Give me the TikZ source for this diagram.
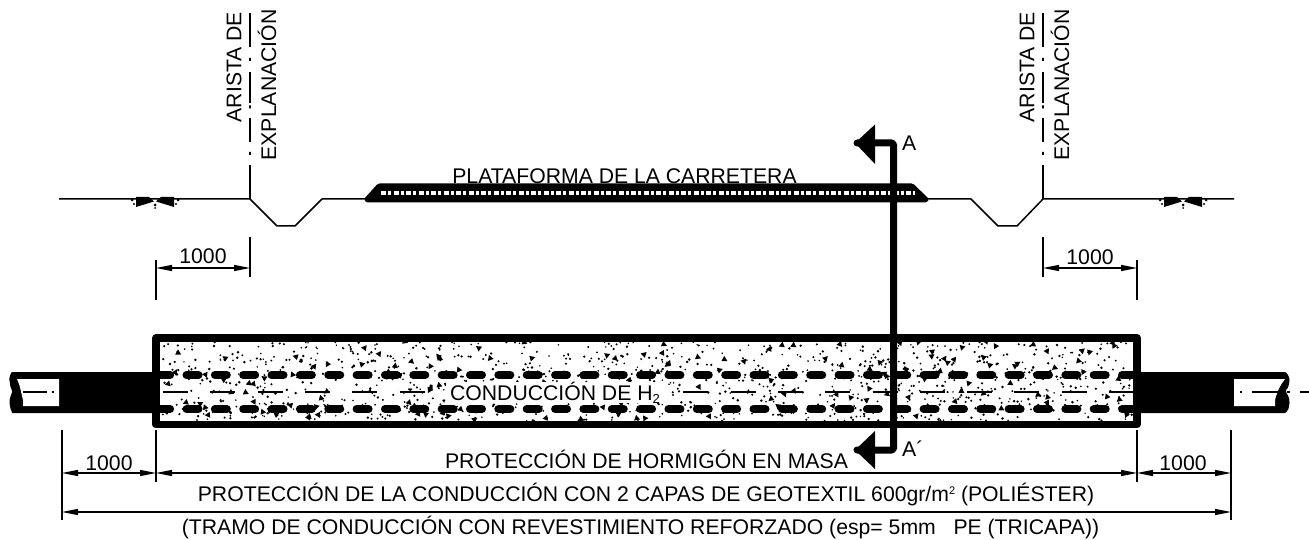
\documentclass[tikz,border=0pt]{standalone}
\usepackage{fontspec}
\setmainfont{Liberation Sans}
\usetikzlibrary{arrows.meta}
\tikzset{
  lbl/.style={inner sep=0pt,font=\fontsize{21.2}{25}\selectfont},
  thin line/.style={line width=1.2pt,black},
  ground/.style={line width=1.5pt,black},
  dimline/.style={line width=1.2pt,black,{Triangle[length=16pt,width=6pt]}-{Triangle[length=16pt,width=6pt]}},
  dimhalf/.style={line width=1.2pt,black},
  rebar/.style={line width=8pt,line cap=round,black},
  section/.style={line width=7pt,black,line join=round},
}
\begin{document}
\begin{tikzpicture}[x=1pt,y=-1pt]
\useasboundingbox (0,0) rectangle (1309,540);
\fill[white] (0,0) rectangle (1309,540);
% ground profile
\coordinate (gl) at (59,199);
\coordinate (el) at (250,199);
\coordinate (er) at (1043,199);
\coordinate (gr) at (1234,199);
\coordinate (pl) at (365,199);
\coordinate (pr) at (928,199);
\draw[ground,line join=round] (gl) -- (el) -- (277,226) -- (295,226) -- (322,199) -- (pl);
\draw[ground,line join=round] (pr) -- (971,199) -- (998,226) -- (1017,226) -- (er) -- (gr);
% break symbols
\foreach \c in {155,1183}{
  \fill[black] (\c-19,197) -- (\c-6,197) -- (\c-1,201.5) -- (\c-19,207) -- cycle;
  \fill[black] (\c+19,197) -- (\c+6,197) -- (\c+1,201.5) -- (\c+19,207) -- cycle;
  \fill[black] (\c-23,200) circle (1.5) (\c-21,204) circle (1.2) (\c+23,200) circle (1.5) (\c+21,204) circle (1.2) (\c,205) circle (1.5) (\c,208) circle (1);
}
% arista lines
\foreach \a in {250,1043}{
  \draw[thin line] (\a,199) -- (\a,165) (\a,142) -- (\a,118) (\a,103) -- (\a,72) (\a,47) -- (\a,13);
  \fill[black] (\a-0.8,152) rectangle (\a+0.8,155) (\a-0.8,105.5) rectangle (\a+0.8,108.5) (\a-0.8,58) rectangle (\a+0.8,61);
}
\node[lbl,rotate=90,anchor=west] (t1) at (234,122.5) {ARISTA DE};
\node[lbl,rotate=90,anchor=west] (t2) at (267,160.5) {EXPLANACIÓN};
\node[lbl,rotate=90,anchor=west] (t3) at (1027,122.5) {ARISTA DE};
\node[lbl,rotate=90,anchor=west] (t4) at (1060,160.5) {EXPLANACIÓN};
% platform
\node[lbl] (plat) at (624.5,176) {PLATAFORMA DE LA CARRETERA};
\fill[black,rounded corners=1.5pt] (364,199) -- (378,183.5) -- (913,183.5) -- (929,199) -- (927,202.5) -- (366,202.5) -- cycle;
\draw[white,line width=3.2pt,dash pattern=on 5pt off 2pt on 3pt off 2.5pt] (381,193) -- (915,193);
% pipe ends
\fill[black,rounded corners=3pt] (156,372) -- (15,372) .. controls (11,372) and (9,378) .. (10,383) .. controls (10.5,388) and (12,390) .. (13,392) .. controls (11,395) and (9,400) .. (10,406) .. controls (11,411) and (13,413) .. (15,413) -- (156,413) -- cycle;
\fill[white] (17,379) .. controls (20,385) and (21,392) .. (23,400) -- (23,406) -- (59,406) -- (59,379) -- cycle;
\fill[black,rounded corners=3pt] (1137,372) -- (1282,372) .. controls (1287,372) and (1290,378) .. (1289,384) .. controls (1288,388) and (1286,390) .. (1285,392) .. controls (1288,395) and (1290,400) .. (1289,406) .. controls (1288,411) and (1285,413) .. (1282,413) -- (1137,413) -- cycle;
\fill[white] (1234,379) -- (1285,379) .. controls (1280,385) and (1277,392) .. (1275,400) -- (1275,406) -- (1234,406) -- cycle;
\draw[thin line] (23,392) -- (47,392) (52,392) -- (54,392);
\draw[thin line] (1240,392) -- (1242,392) (1252,392) -- (1280,392) (1287,392) -- (1290,392) (1300,392) -- (1309,392);
% concrete block
\fill[white] (156,338) rectangle (1137,424.5);
\begin{scope}
\clip (160,342) rectangle (1133,421);
\pgfmathsetseed{4711}
\foreach \i in {1,...,1150}{
  \pgfmathsetmacro\sx{160+rnd*973}
  \pgfmathsetmacro\sy{342+rnd*79}
  \pgfmathsetmacro\sr{0.8+0.6*rnd}
  \fill[black] (\sx,\sy) circle (\sr);
}
\foreach \i in {1,...,170}{
  \pgfmathsetmacro\sx{160+rnd*973}
  \pgfmathsetmacro\sy{342+rnd*79}
  \pgfmathsetmacro\sa{rnd*360}
  \fill[black] (\sx,\sy) ++(\sa:4) -- ++(\sa+130:6) -- ++(\sa+250:6) -- cycle;
}
\foreach \k in {-1,0,...,35}{
  \pgfmathsetmacro\dx{192.5+28.35*\k}
  \draw[rebar] (\dx-6,375) -- (\dx+6,375);
  \draw[rebar] (\dx-6,409) -- (\dx+6,409);
}
\foreach \k in {0,1,...,20}{
  \pgfmathsetmacro\dx{163+47.3*\k}
  \draw[thin line] (\dx,392) -- (\dx+25,392);
}
\end{scope}
\node[lbl,fill=white,inner xsep=4pt,inner ysep=0pt] (cond) at (555,392.5) {CONDUCCIÓN DE H\raisebox{-3pt}{\fontsize{13}{13}\selectfont 2}};
\draw[line width=7.5pt,black,line join=round] (156,338) rectangle (1137,424.5);
% section line
\coordinate (s1) at (857,143);
\coordinate (s2) at (893.5,143);
\coordinate (s3) at (893.5,450);
\coordinate (s4) at (857,450);
\draw[section,rounded corners=1.5pt,line cap=round] (s1) -- (s2) -- (s3) -- (s4);
\fill[black] (855,143) -- (875,124.5) -- (875,164) -- cycle;
\fill[black] (855,450) -- (875,431) -- (875,469) -- cycle;
\node[lbl,anchor=west] (A) at (902,143.5) {A};
\node[lbl,anchor=west] (Ap) at (902,449) {A´};
% dimensions top
\coordinate (d1) at (156,268);
\coordinate (d2) at (250,268);
\coordinate (d3) at (1043,268);
\coordinate (d4) at (1137,268);
\draw[dimhalf] (156,260) -- (156,300) (250,237) -- (250,277);
\draw[dimhalf] (1043,237) -- (1043,277) (1137,260) -- (1137,300);
\draw[dimline] (d1) -- (d2);
\draw[dimline] (d3) -- (d4);
\node[lbl] (n1) at (203,256.5) {1000};
\node[lbl] (n2) at (1090,257) {1000};
% dimensions bottom
\coordinate (b1) at (62,473);
\coordinate (b2) at (156,473);
\coordinate (b3) at (1137,473);
\coordinate (b4) at (1231,473);
\coordinate (c1) at (62,512);
\coordinate (c2) at (1231,512);
\draw[dimhalf] (62,430) -- (62,520) (156,430) -- (156,482) (1137,430) -- (1137,482) (1231,430) -- (1231,520);
\draw[dimline] (b1) -- (b2);
\draw[dimline] (b2) -- (b3);
\draw[dimline] (b3) -- (b4);
\draw[dimline] (c1) -- (c2);
\node[lbl] (n3) at (109,463) {1000};
\node[lbl] (n4) at (1183,463) {1000};
\node[lbl] (p1) at (646.5,459.5) {PROTECCIÓN DE HORMIGÓN EN MASA};
\node[lbl] (p2) at (646,495) {PROTECCIÓN DE LA CONDUCCIÓN CON 2 CAPAS DE GEOTEXTIL 600gr/m\raisebox{7pt}{\fontsize{11}{11}\selectfont 2} (POLIÉSTER)};
\node[lbl] (p3) at (640.5,528) {(TRAMO DE CONDUCCIÓN CON REVESTIMIENTO REFORZADO (esp= 5mm\ \ \ PE (TRICAPA))};
\end{tikzpicture}
\end{document}
